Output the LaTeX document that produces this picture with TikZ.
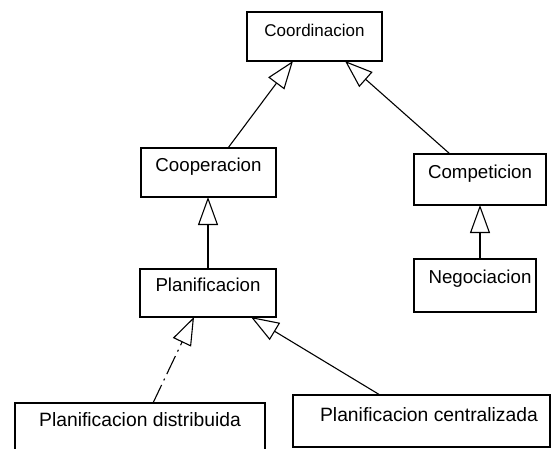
\documentclass[tikz,border=0pt]{standalone}
\usepackage{fontspec}
\setmainfont{Liberation Sans}
\usetikzlibrary{arrows.meta,calc}
\begin{document}
\begin{tikzpicture}[x=1pt,y=-1pt,
  cls/.style={draw=black, line width=1.1pt, rectangle, inner sep=0pt, outer sep=0pt,
              font=\fontsize{18.7}{20}\selectfont},
  wide/.style={font=\fontsize{19.3}{21}\selectfont},
  gen/.style={line width=1.1pt,
              -{Triangle[open,length=28pt,width=20pt,line width=1.1pt]}},
  dashdot/.style={dash pattern=on 20pt off 5pt on 2pt off 5pt}]
\useasboundingbox (0,0) rectangle (552,448);
\fill[white] (0,0) rectangle (552,448);
\clip (0,0) rectangle (552,448);

% class boxes (text sits near the top of each box)
\node[cls, font=\fontsize{17}{20}\selectfont, minimum width=135pt, minimum height=49pt,
      text height=24pt, text depth=25pt] (coord) at (314.5,36.5) {Coordinacion};
\node[cls, minimum width=135pt, minimum height=49pt,
      text height=23pt, text depth=26pt] (coop) at (208.5,172.5) {Cooperacion};
\node[cls, minimum width=132pt, minimum height=51pt,
      text height=24.5pt, text depth=26.5pt] (comp) at (480,179.5) {Competicion};
\node[cls, minimum width=122pt, minimum height=53pt,
      text height=24.5pt, text depth=28.5pt] (nego) at (475,285.5) {\hspace*{10pt}Negociacion};
\node[cls, minimum width=136pt, minimum height=48pt,
      text height=22.5pt, text depth=25.5pt] (plan) at (208,293) {Planificacion};
\node[cls, wide, minimum width=250pt, minimum height=52pt,
      text height=23.5pt, text depth=28.5pt] (dist) at (140,429) {Planificacion distribuida};
\node[cls, wide, minimum width=257pt, minimum height=52pt,
      text height=26.5pt, text depth=25.5pt] (cent) at (421.5,421) {\hspace*{15pt}Planificacion centralizada};

% generalisation links
\draw[gen] ($(coop.north west)+(87,0)$) -- ($(coord.south west)+(46,0)$);
\draw[gen] ($(comp.north west)+(36,0)$) -- ($(coord.south west)+(98,0)$);
\draw[gen] (plan.north) -- (plan.north |- coop.south);
\draw[gen] (comp.south |- nego.north) -- (comp.south);
\draw[gen, dashdot] ($(dist.north west)+(138,0)$) -- ($(plan.south west)+(54,0)$);
\draw[gen] ($(cent.north west)+(87,0)$) -- ($(plan.south west)+(111,0)$);
\end{tikzpicture}
\end{document}
